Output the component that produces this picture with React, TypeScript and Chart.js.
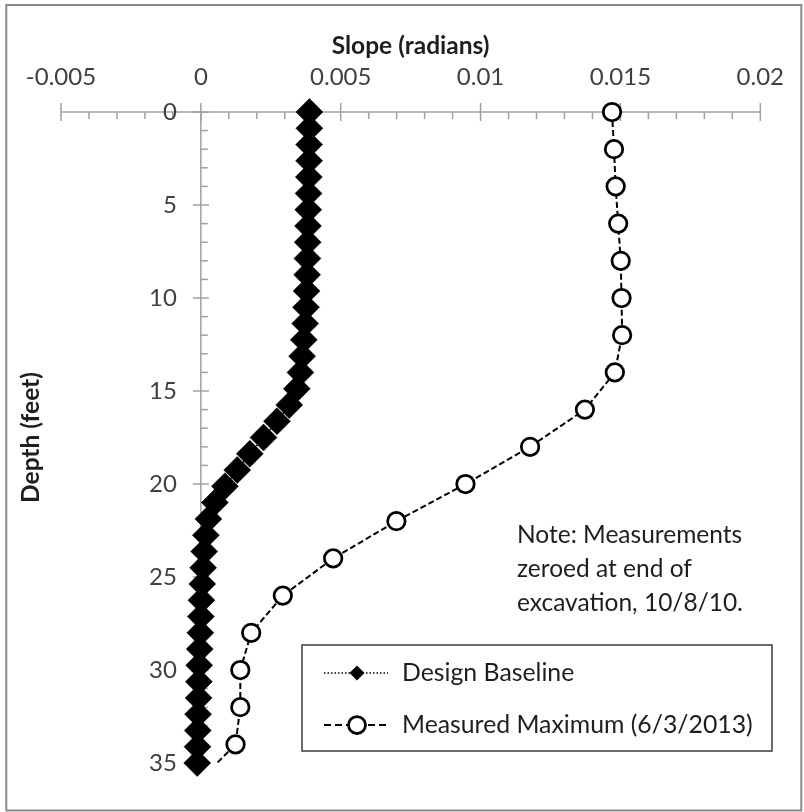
import React, { useEffect, useRef } from 'react';
import { Chart, registerables } from 'chart.js';

Chart.register(...registerables);

// ---------- data ----------
const seriesNames = ['Design Baseline', 'Measured Maximum (6/3/2013)'];

const baselineDepth = [
  0, 0.875, 1.75, 2.625, 3.5, 4.375, 5.25, 6.125, 7.0, 7.875,
  8.75, 9.625, 10.5, 11.375, 12.25, 13.125, 14.0, 14.875, 15.75, 16.625,
  17.5, 18.375, 19.25, 20.125, 21.0, 21.875, 22.75, 23.625, 24.5, 25.375,
  26.25, 27.125, 28.0, 28.875, 29.75, 30.625, 31.5, 32.375, 33.25, 34.125, 35.0,
];
const baselineSlope = [
  0.00388, 0.00388, 0.00387, 0.00387, 0.00386, 0.00385, 0.00384, 0.00383, 0.00382, 0.00381,
  0.0038, 0.00378, 0.00376, 0.00373, 0.00368, 0.00362, 0.00356, 0.00343, 0.00316, 0.00272,
  0.00224, 0.00175, 0.0013, 0.00086, 0.0005, 0.00027, 0.00018, 0.00012, 0.00008, 0.00005,
  0.00002, 0.0, -0.00002, -0.00004, -0.00006, -0.00007, -0.00008, -0.0001, -0.00011, -0.00012, -0.00013,
];

const measuredDepth = [0, 2, 4, 6, 8, 10, 12, 14, 16, 18, 20, 22, 24, 26, 28, 30, 32, 34, 35];
const measuredSlope = [
  0.0147, 0.01477, 0.01483, 0.01492, 0.01501, 0.01504, 0.01506, 0.0148, 0.01373, 0.01177,
  0.00946, 0.00699, 0.00473, 0.00293, 0.0018, 0.00141, 0.00141, 0.00124, 0.00058,
];

const xTickValues = [-0.005, 0, 0.005, 0.01, 0.015, 0.02];
const xTickLabels = ['-0.005', '0', '0.005', '0.01', '0.015', '0.02'];
const yTickValues = [0, 5, 10, 15, 20, 25, 30, 35];
const yTickLabels = ['0', '5', '10', '15', '20', '25', '30', '35'];

const xTitle = 'Slope (radians)';
const yTitle = 'Depth (feet)';
const noteLines = ['Note: Measurements', 'zeroed at end of', 'excavation, 10/8/10.'];

// ---------- styling ----------
const FONT = 'Lato';
const AXIS_COLOR = '#a0a0a0';
const LABEL_COLOR = '#404040';
const TEXT_COLOR = '#1e1e1e';

function drawDiamond(ctx: CanvasRenderingContext2D, cx: number, cy: number, w: number, h: number) {
  ctx.beginPath();
  ctx.moveTo(cx - w, cy);
  ctx.lineTo(cx, cy - h);
  ctx.lineTo(cx + w, cy);
  ctx.lineTo(cx, cy + h);
  ctx.closePath();
  ctx.fillStyle = '#000';
  ctx.fill();
}

function drawCircle(ctx: CanvasRenderingContext2D, cx: number, cy: number, r: number) {
  ctx.beginPath();
  ctx.arc(cx, cy, r, 0, Math.PI * 2);
  ctx.fillStyle = '#fff';
  ctx.fill();
  ctx.lineWidth = 2.75;
  ctx.strokeStyle = '#000';
  ctx.setLineDash([]);
  ctx.stroke();
}

const framePlugin = {
  id: 'frame',
  beforeDraw(chart: any) {
    const ctx = chart.ctx;
    ctx.save();
    ctx.fillStyle = '#fff';
    ctx.fillRect(0, 0, chart.width, chart.height);
    ctx.strokeStyle = '#8a8a8a';
    ctx.lineWidth = 2;
    ctx.strokeRect(6.3, 5, 795, 805.5);
    ctx.restore();
  },
};

const axesPlugin = {
  id: 'axesAtZero',
  beforeDatasetsDraw(chart: any) {
    const ctx: CanvasRenderingContext2D = chart.ctx;
    const xs = chart.scales.x;
    const ys = chart.scales.y;
    const x0 = xs.getPixelForValue(0);
    const y0 = ys.getPixelForValue(0);
    const seg = (a: number, b: number, c: number, d: number) => {
      ctx.beginPath();
      ctx.moveTo(a, b);
      ctx.lineTo(c, d);
      ctx.stroke();
    };
    ctx.save();
    ctx.strokeStyle = AXIS_COLOR;
    ctx.lineWidth = 1.5;
    // horizontal (slope) axis along depth 0
    seg(xs.left, y0, xs.right, y0);
    for (let i = -5; i <= 20; i++) {
      const px = xs.getPixelForValue(i / 1000);
      if (i % 5 === 0) seg(px, y0 - 9, px, y0 + 9);
      else seg(px, y0, px, y0 + 7);
    }
    // vertical (depth) axis along slope 0
    seg(x0, ys.top, x0, ys.bottom);
    for (let d = 0; d <= 35; d++) {
      const py = ys.getPixelForValue(d);
      if (d % 5 === 0) seg(x0 - 8, py, x0 + 8, py);
      else seg(x0, py, x0 + 7, py);
    }
    ctx.fillStyle = LABEL_COLOR;
    ctx.font = `24px ${FONT}`;
    ctx.textAlign = 'right';
    ctx.textBaseline = 'middle';
    yTickValues.forEach((v, i) => {
      ctx.fillText(yTickLabels[i], x0 - 24, ys.getPixelForValue(v));
    });
    ctx.restore();
  },
};

const legendNotePlugin = {
  id: 'legendNote',
  afterDraw(chart: any) {
    const ctx: CanvasRenderingContext2D = chart.ctx;
    ctx.save();
    // legend box
    ctx.fillStyle = '#fff';
    ctx.fillRect(302, 645, 470, 106);
    ctx.strokeStyle = '#3c3c3c';
    ctx.lineWidth = 1.5;
    ctx.strokeRect(302, 645, 470, 106);

    const symL = 324;
    const symR = 388;
    const symC = 357;
    const rows = [673, 725];

    // row 1: dotted line + filled diamond
    ctx.strokeStyle = '#000';
    ctx.lineWidth = 1.5;
    ctx.setLineDash([1.5, 2]);
    ctx.beginPath();
    ctx.moveTo(symL, rows[0]);
    ctx.lineTo(symR, rows[0]);
    ctx.stroke();
    ctx.setLineDash([]);
    drawDiamond(ctx, symC, rows[0], 7.5, 7.5);

    // row 2: dashed line + open circle
    ctx.strokeStyle = '#000';
    ctx.lineWidth = 2;
    ctx.setLineDash([7, 4]);
    ctx.beginPath();
    ctx.moveTo(symL, rows[1]);
    ctx.lineTo(symR, rows[1]);
    ctx.stroke();
    ctx.setLineDash([]);
    drawCircle(ctx, symC, rows[1], 8.5);

    ctx.fillStyle = TEXT_COLOR;
    ctx.font = `24.8px ${FONT}`;
    ctx.textAlign = 'left';
    ctx.textBaseline = 'middle';
    ctx.fillText(seriesNames[0], 402, rows[0]);
    ctx.fillText(seriesNames[1], 402, rows[1]);

    // note
    ctx.font = `24.5px ${FONT}`;
    noteLines.forEach((t, i) => {
      ctx.fillText(t, 517, 535 + i * 34);
    });
    ctx.restore();
  },
};

export default function App() {
  const canvasRef = useRef<HTMLCanvasElement | null>(null);

  useEffect(() => {
    const canvas = canvasRef.current;
    if (!canvas) return;
    const baselineData = baselineDepth.map((d, i) => ({ x: baselineSlope[i], y: d }));
    const measuredData = measuredDepth.map((d, i) => ({ x: measuredSlope[i], y: d }));
    const lastMeasured = measuredData.length - 1;

    const chart = new Chart(canvas, {
      type: 'scatter',
      data: {
        datasets: [
          {
            label: seriesNames[0],
            data: baselineData,
            showLine: true,
            borderColor: '#000',
            borderWidth: 1.5,
            borderDash: [1.5, 2],
            pointStyle: 'rectRot',
            pointRadius: 13.5,
            pointBackgroundColor: '#000',
            pointBorderColor: '#000',
            pointBorderWidth: 0.5,
            clip: false,
          } as any,
          {
            label: seriesNames[1],
            data: measuredData,
            showLine: true,
            borderColor: '#000',
            borderWidth: 2,
            borderDash: [6, 3],
            pointStyle: 'circle',
            pointRadius: (c: any) => (c.dataIndex === lastMeasured ? 0 : 8.75),
            pointBackgroundColor: '#fff',
            pointBorderColor: '#000',
            pointBorderWidth: 2.75,
            clip: false,
          } as any,
        ],
      },
      options: {
        animation: false,
        responsive: false,
        events: [],
        layout: { padding: { left: 0, right: 42, top: 0, bottom: 49 } },
        plugins: {
          legend: { display: false },
          tooltip: { enabled: false },
        },
        scales: {
          x: {
            type: 'linear',
            position: 'top',
            min: -0.005,
            max: 0.02,
            afterBuildTicks: (s: any) => {
              s.ticks = xTickValues.map((v) => ({ value: v }));
            },
            afterFit: (s: any) => {
              s.height = 112;
            },
            grid: { display: false, drawTicks: false },
            border: { display: false },
            ticks: {
              callback: (_v: any, i: number) => xTickLabels[i],
              font: { family: FONT, size: 24 },
              color: LABEL_COLOR,
              padding: 20,
              maxRotation: 0,
              autoSkip: false,
            },
            title: {
              display: true,
              text: xTitle,
              font: { family: FONT, size: 24.5, weight: 'bold' },
              color: TEXT_COLOR,
              padding: { top: 31, bottom: 0 },
            },
          } as any,
          y: {
            type: 'linear',
            position: 'left',
            reverse: true,
            min: 0,
            max: 35,
            afterBuildTicks: (s: any) => {
              s.ticks = yTickValues.map((v) => ({ value: v }));
            },
            afterFit: (s: any) => {
              s.width = 61;
            },
            grid: { display: false, drawTicks: false },
            border: { display: false },
            ticks: { display: false },
            title: {
              display: true,
              text: yTitle,
              font: { family: FONT, size: 24.5, weight: 'bold' },
              color: TEXT_COLOR,
              padding: { top: 16, bottom: 0 },
            },
          } as any,
        },
      },
      plugins: [framePlugin, axesPlugin, legendNotePlugin],
    });
    return () => chart.destroy();
  }, []);

  return (
    <div style={{ position: 'fixed', left: 0, top: 0, width: 804, height: 812, background: '#fff' }}>
      <canvas ref={canvasRef} width={804} height={812} style={{ width: 804, height: 812, display: 'block' }} />
    </div>
  );
}
